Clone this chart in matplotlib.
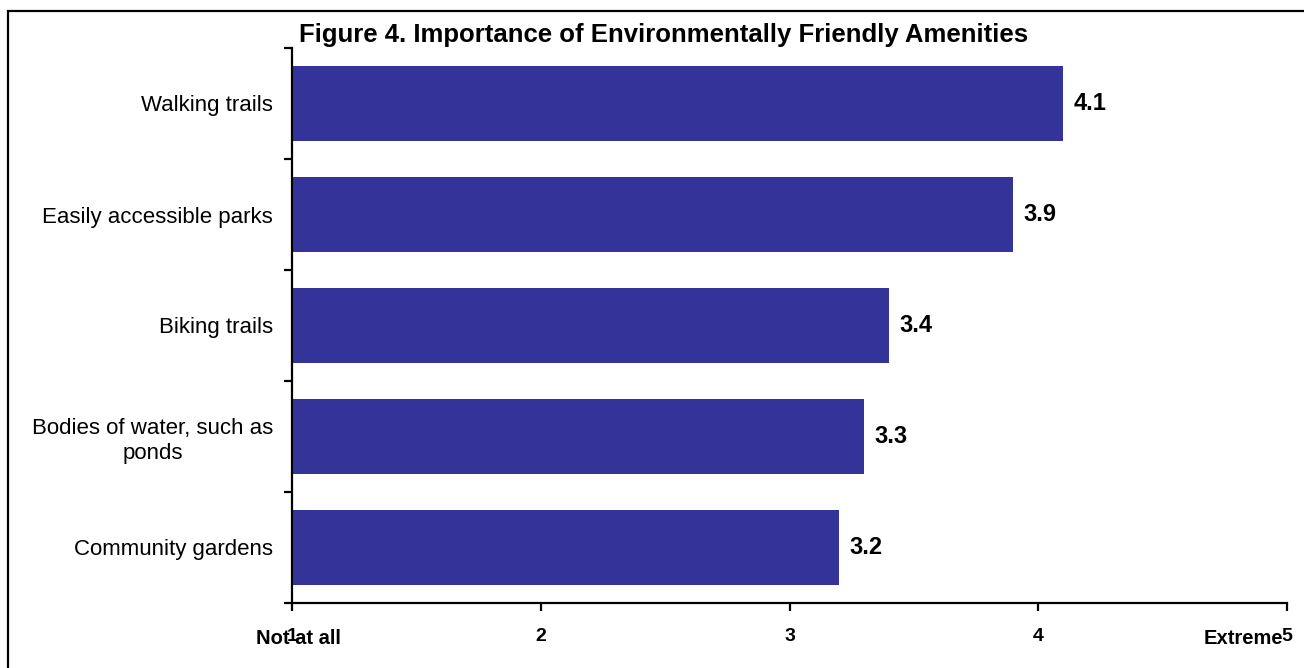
import matplotlib
matplotlib.use("Agg")
import matplotlib.pyplot as plt
from matplotlib.patches import Rectangle
from matplotlib.transforms import blended_transform_factory

plt.rcParams['font.family'] = ['Liberation Sans', 'DejaVu Sans']

# Data
categories = ["Walking trails", "Easily accessible parks", "Biking trails",
              "Bodies of water, such as\nponds", "Community gardens"]
scores = [4.1, 3.9, 3.4, 3.3, 3.2]
x_ticks = [1, 2, 3, 4, 5]
scale_ends = ["Not at all", "Extreme"]
title = "Figure 4. Importance of Environmentally Friendly Amenities"

W, H = 1304, 668
fig = plt.figure(figsize=(W / 100, H / 100), dpi=100)
fig.patch.set_facecolor("white")

# Outer frame (only top and left edges fall inside the canvas)
fig.add_artist(Rectangle((8 / W, -0.05), 1.2, 1 - 11 / H + 0.05,
                         transform=fig.transFigure, fill=False,
                         edgecolor="black", linewidth=1.6))

ax = fig.add_axes([292 / W, 1 - 603 / H, (1287 - 292) / W, (603 - 48) / H])

ypos = list(range(len(categories)))
bar_color = "#333399"
ax.barh(ypos, scores, height=0.68, color=bar_color, left=0)
ax.set_xlim(1, 5)
ax.set_ylim(len(categories) - 0.5, -0.5)

for sp in ["top", "right"]:
    ax.spines[sp].set_visible(False)
for sp in ["left", "bottom"]:
    ax.spines[sp].set_linewidth(1.6)

# Y axis: tick marks at category boundaries, labels at centres
ax.set_yticks([i - 0.5 for i in range(len(categories) + 1)])
ax.set_yticklabels([])
ax.tick_params(axis="y", which="major", length=6, width=1.6, direction="out")
ax.set_yticks(ypos, minor=True)
ax.set_yticklabels(categories, minor=True, fontsize=16, multialignment="center",
                   linespacing=1.25)
ax.tick_params(axis="y", which="minor", length=0, pad=13.5)

# X axis
ax.set_xticks(x_ticks)
ax.set_xticklabels([str(t) for t in x_ticks], fontsize=14, fontweight="bold")
ax.tick_params(axis="x", length=6, width=1.6, direction="out", pad=12)

# Value labels
for y, v in zip(ypos, scores):
    ax.annotate(f"{v:.1f}", xy=(v, y), xytext=(10, 0), textcoords="offset pixels",
                ha="left", va="center", fontsize=17, fontweight="bold")

# Scale end labels
tr = blended_transform_factory(ax.transData, fig.transFigure)
ax.text(1.024, 1 - 639 / H, scale_ends[0], transform=tr, ha="center", va="center",
        fontsize=14.5, fontweight="bold")
ax.text(4.823, 1 - 639 / H, scale_ends[1], transform=tr, ha="center", va="center",
        fontsize=14.5, fontweight="bold")

fig.text(664 / W, 1 - 35 / H, title, ha="center", va="center",
         fontsize=18.5, fontweight="bold")

fig.savefig("out.png", dpi=100)
